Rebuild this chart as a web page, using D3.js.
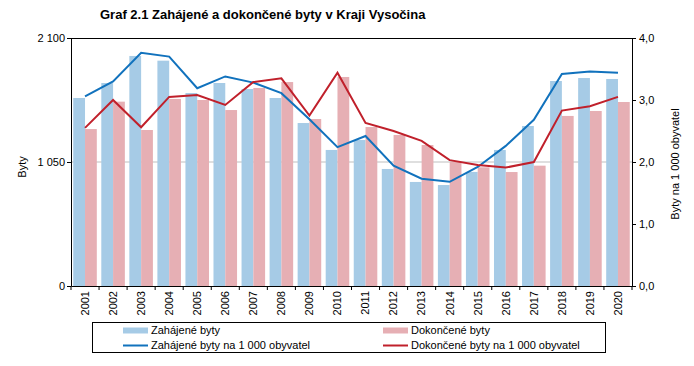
<!DOCTYPE html>
<html><head><meta charset="utf-8">
<script src="https://cdn.jsdelivr.net/npm/d3@7"></script>
<style>body{margin:0;background:#fff;font-family:"Liberation Sans",Arial,sans-serif;}</style>
</head><body>
<svg id="c" width="694" height="366"></svg>
<script>
const years = ["2001","2002","2003","2004","2005","2006","2007","2008","2009","2010","2011","2012","2013","2014","2015","2016","2017","2018","2019","2020"];
const started = [1592,1719,1948,1908,1634,1719,1668,1592,1380,1152,1236,991,881,855,966,1152,1355,1736,1761,1753];
const completed = [1329,1561,1321,1584,1575,1490,1677,1727,1414,1770,1346,1279,1194,1050,1005,965,1019,1440,1482,1558];
const startedPer1000 = [3.06,3.30,3.76,3.70,3.19,3.38,3.28,3.11,2.69,2.24,2.42,1.94,1.73,1.68,1.92,2.26,2.68,3.42,3.46,3.44];
const completedPer1000 = [2.55,3.00,2.56,3.05,3.08,2.92,3.29,3.35,2.75,3.44,2.63,2.50,2.34,2.03,1.95,1.91,2.00,2.83,2.90,3.05];
const leftTicks = [0,1050,2100];
const rightTicks = [0,1,2,3,4];
const title = "Graf 2.1 Zahájené a dokončené byty v Kraji Vysočina";

const svg = d3.select("#c");
const L=71,R=632,T=38,B=286;
const x = d3.scaleBand().domain(years).range([L,R]).paddingInner(0).paddingOuter(0);
const yL = d3.scaleLinear().domain([0,2100]).range([B,T]);
const yR = d3.scaleLinear().domain([0,4]).range([B,T]);
const cBlue="#a6cbe6", cPink="#e6afb4", lBlue="#1172bd", lRed="#c0202b";

svg.append("text").attr("x",100).attr("y",19).attr("font-size",13).attr("font-weight","bold").text(title);

// gridline
svg.append("line").attr("x1",L).attr("x2",R).attr("y1",yL(1050)).attr("y2",yL(1050)).attr("stroke","#bfbfbf");

const bw = x.bandwidth();
const barW = bw*0.42, off = bw*0.08;
svg.append("g").selectAll("rect").data(years).join("rect")
  .attr("x",d=>x(d)+off).attr("width",barW)
  .attr("y",(d,i)=>yL(started[i])).attr("height",(d,i)=>B-yL(started[i])).attr("fill",cBlue);
svg.append("g").selectAll("rect").data(years).join("rect")
  .attr("x",d=>x(d)+off+barW).attr("width",barW)
  .attr("y",(d,i)=>yL(completed[i])).attr("height",(d,i)=>B-yL(completed[i])).attr("fill",cPink);

const cx = d=>x(d)+off+barW;
const line = arr => d3.line().x((d)=>cx(d)).y((d,i)=>yR(arr[i]))(years);
svg.append("path").attr("d",line(startedPer1000)).attr("fill","none").attr("stroke",lBlue).attr("stroke-width",2);
svg.append("path").attr("d",line(completedPer1000)).attr("fill","none").attr("stroke",lRed).attr("stroke-width",2);

// axes
const fmt = d=>d3.format(",")(d).replace(/,/g," ");
const gL = svg.append("g").attr("transform",`translate(${L},0)`).call(d3.axisLeft(yL).tickValues(leftTicks).tickSize(4).tickSizeOuter(0).tickFormat(fmt));
const gR = svg.append("g").attr("transform",`translate(${R},0)`).call(d3.axisRight(yR).tickValues(rightTicks).tickSize(4).tickSizeOuter(0).tickFormat(d=>d3.format(".1f")(d).replace(".",",")));
const gB = svg.append("g").attr("transform",`translate(0,${B})`).call(d3.axisBottom(x).tickSize(0).tickSizeOuter(0));
[gL,gR,gB].forEach(g=>{g.selectAll("text").attr("font-size",11).attr("fill","#000").attr("font-family","Liberation Sans, Arial, sans-serif");g.select(".domain").attr("stroke","#000");g.selectAll(".tick line").attr("stroke","#000");});
gL.selectAll("text").attr("x",-6);
gR.selectAll("text").attr("x",7);
gB.selectAll(".tick text").attr("transform","rotate(-90)").attr("text-anchor","end").attr("x",-5).attr("y",0).attr("dy","0.35em");
// band boundary ticks
svg.append("g").selectAll("line").data(years.concat(["end"])).join("line")
  .attr("x1",(d,i)=>i<years.length?x(d):R).attr("x2",(d,i)=>i<years.length?x(d):R)
  .attr("y1",B).attr("y2",B+4).attr("stroke","#000");
// top border
svg.append("line").attr("x1",L).attr("x2",R).attr("y1",T+0.5).attr("y2",T+0.5).attr("stroke","#000");

svg.append("text").attr("transform","translate(26,167) rotate(-90)").attr("text-anchor","middle").attr("font-size",11).text("Byty");
svg.append("text").attr("transform","translate(679,164) rotate(-90)").attr("text-anchor","middle").attr("font-size",11).text("Byty na 1 000 obyvatel");

// legend
svg.append("rect").attr("x",92.5).attr("y",322.5).attr("width",513).attr("height",30).attr("fill","none").attr("stroke","#000");
const leg=[{t:"Zahájené byty",c:cBlue,w:6,x:123,y:330.5},{t:"Dokončené byty",c:cPink,w:6,x:383,y:330.5},
 {t:"Zahájené byty na 1 000 obyvatel",c:lBlue,w:2,x:123,y:345.5},{t:"Dokončené byty na 1 000 obyvatel",c:lRed,w:2,x:383,y:345.5}];
const lg=svg.append("g").selectAll("g").data(leg).join("g");
lg.append("line").attr("x1",d=>d.x).attr("x2",d=>d.x+25).attr("y1",d=>d.y).attr("y2",d=>d.y).attr("stroke",d=>d.c).attr("stroke-width",d=>d.w);
lg.append("text").attr("x",d=>d.x+28).attr("y",d=>d.y).attr("dy","0.35em").attr("font-size",11).text(d=>d.t);
</script>
</body></html>
